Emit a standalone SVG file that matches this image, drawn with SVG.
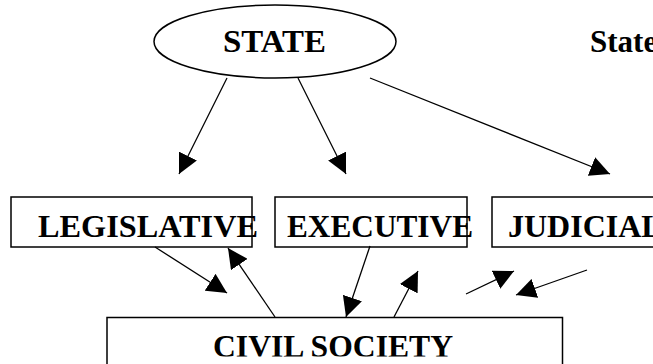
<svg xmlns="http://www.w3.org/2000/svg" width="653" height="364" viewBox="0 0 653 364">
<style>
.t{font-family:"Liberation Serif","Times New Roman",serif;font-weight:bold;fill:#000}
.b{fill:#fff;stroke:#000;stroke-width:1.5}
.c line{stroke:#000;stroke-width:1.3}
</style>
<defs>
<marker id="ah" viewBox="0 0 20 20" refX="20" refY="10" markerWidth="20" markerHeight="20" markerUnits="userSpaceOnUse" orient="auto">
<path d="M0,0 L20,10 L0,20 z" fill="#000"/>
</marker>
<clipPath id="cs"><rect x="0" y="0" width="653" height="356.5"/></clipPath>
</defs>
<rect width="653" height="364" fill="#fff"/>
<g id="state">
<ellipse class="b" cx="275" cy="41.5" rx="121" ry="36.5"/>
<text class="t" x="223" y="52" font-size="31" textLength="103" lengthAdjust="spacingAndGlyphs">STATE</text>
</g>
<g id="state-label">
<text class="t" x="590" y="52" font-size="31">State</text>
</g>
<g id="legislative">
<rect class="b" x="11" y="197" width="241" height="50"/>
<text class="t" x="38" y="237" font-size="32" textLength="220" lengthAdjust="spacingAndGlyphs">LEGISLATIVE</text>
</g>
<g id="executive">
<rect class="b" x="275" y="197" width="192" height="50"/>
<text class="t" x="287" y="237" font-size="32" textLength="186" lengthAdjust="spacingAndGlyphs">EXECUTIVE</text>
</g>
<g id="judicial">
<rect class="b" x="492" y="197" width="200" height="50"/>
<text class="t" x="508" y="237" font-size="32">JUDICIAL</text>
</g>
<g id="civil-society">
<rect class="b" x="107" y="317.5" width="455.5" height="80"/>
<text class="t" x="213" y="357" font-size="31" textLength="240" lengthAdjust="spacingAndGlyphs" clip-path="url(#cs)">CIVIL SOCIETY</text>
</g>
<g class="c" id="connectors">
<line x1="227" y1="78" x2="179" y2="174" marker-end="url(#ah)"/>
<line x1="298" y1="78" x2="346" y2="174" marker-end="url(#ah)"/>
<line x1="370" y1="78" x2="610" y2="174" marker-end="url(#ah)"/>
<line x1="155" y1="247" x2="227" y2="293" marker-end="url(#ah)"/>
<line x1="275" y1="317" x2="228" y2="248" marker-end="url(#ah)"/>
<line x1="370" y1="246" x2="346" y2="317" marker-end="url(#ah)"/>
<line x1="394" y1="317" x2="418" y2="271" marker-end="url(#ah)"/>
<line x1="466" y1="294" x2="514" y2="271" marker-end="url(#ah)"/>
<line x1="587" y1="270" x2="516" y2="295" marker-end="url(#ah)"/>
</g>
</svg>
